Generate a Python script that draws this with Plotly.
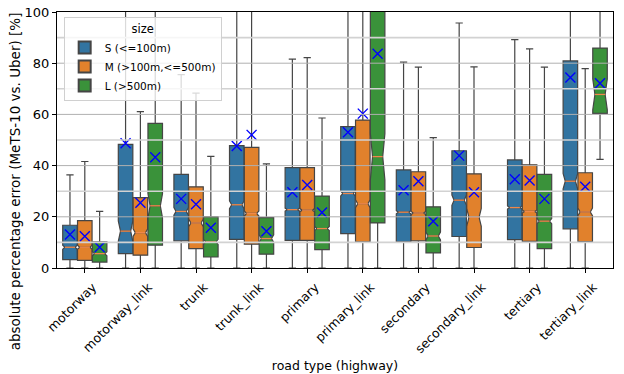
import plotly.graph_objects as go

# Road types on the x axis
categories = ["motorway", "motorway_link", "trunk", "trunk_link", "primary",
              "primary_link", "secondary", "secondary_link", "tertiary", "tertiary_link"]

# Box statistics per size class (None = no data for that road type)
s_q1 = [3.3, 5.6, 10.6, 11.2, 10.8, 13.4, 10.2, 12.3, 11.1, 15.3]
s_med = [8.1, 14.4, 22.1, 24.7, 22.8, 29.1, 21.8, 26.5, 23.6, 33.9]
s_q3 = [16.7, 48.3, 36.6, 47.8, 39.2, 55.2, 38.3, 45.8, 42.2, 80.9]
s_lo = [0, 0, 0, 0, 0, 0, 0, 0, 0, 0]
s_hi = [36.4, 118, 75.5, 115, 81.6, 125, 80.4, 95.7, 89.2, 150]
s_notch = [0.8, 4.0, 1.5, 1.5, 0.6, 1.0, 0.6, 2.0, 0.6, 3.0]
s_mean = [13.1, 48.7, 27.0, 47.7, 29.6, 53.0, 30.4, 43.9, 34.7, 74.4]

m_q1 = [3.0, 5.0, 7.6, 9.3, 10.8, 10.2, 10.6, 8.0, 10.4, 10.3]
m_med = [8.1, 13.8, 17.6, 21.3, 22.6, 25.1, 21.5, 19.8, 22.1, 21.9]
m_q3 = [18.5, 27.5, 31.7, 47.1, 39.2, 57.8, 37.6, 36.8, 40.3, 37.2]
m_lo = [0, 0, 0, 0, 0, 0, 0, 0, 0, 0]
m_hi = [41.6, 61.1, 68.3, 120, 82.2, 130, 78.5, 78.6, 85.6, 77.9]
m_notch = [0.8, 1.5, 1.5, 1.0, 0.6, 1.5, 0.6, 3.5, 0.6, 1.5]
m_mean = [12.4, 25.5, 24.9, 52.0, 32.4, 60.3, 33.9, 29.6, 34.2, 31.7]

l_q1 = [2.3, 8.9, 4.3, 5.4, 7.2, 17.6, 5.9, None, 7.6, 60.4]
l_med = [5.6, 24.3, 10.2, 11.5, 15.4, 43.5, 12.5, None, 18.3, 67.8]
l_q3 = [10.2, 56.5, 20.0, 19.7, 28.1, 140.0, 23.9, None, 36.6, 85.9]
l_lo = [0, 0, 0, 0, 0, 0, 0, None, 0, 42.4]
l_hi = [22.1, 115, 43.6, 40.7, 58.6, 250, 50.9, None, 78.5, 120]
l_notch = [0.8, 4.7, 1.0, 1.5, 0.8, 9.0, 1.5, None, 1.0, 6.0]
l_mean = [8.1, 43.3, 15.7, 14.4, 21.7, 83.7, 18.3, None, 27.0, 72.2]

sizes = ["S (<=100m)", "M (>100m,<=500m)", "L (>500m)"]
colors = ["#3274a1", "#e1812c", "#3a923a"]

groups = [
    (s_q1, s_med, s_q3, s_lo, s_hi, s_notch, s_mean),
    (m_q1, m_med, m_q3, m_lo, m_hi, m_notch, m_mean),
    (l_q1, l_med, l_q3, l_lo, l_hi, l_notch, l_mean),
]

dodge = 0.8 / 3
box_w = dodge * 0.98
notch_w = 0.15

fig = go.Figure()
mean_x, mean_y = [], []
med_x, med_y = [], []
for k, (q1, med, q3, lo, hi, nspan, mean) in enumerate(groups):
    idx = [i for i in range(len(categories)) if q1[i] is not None]
    xs = [i + (k - 1) * dodge for i in idx]
    fig.add_trace(go.Box(
        name=sizes[k], x=xs,
        q1=[q1[i] for i in idx], median=[med[i] for i in idx],
        q3=[q3[i] for i in idx], lowerfence=[lo[i] for i in idx],
        upperfence=[hi[i] for i in idx], notchspan=[nspan[i] for i in idx],
        notched=True, notchwidth=notch_w, width=box_w, whiskerwidth=0.5,
        fillcolor=colors[k], line=dict(color="#454545", width=1.2),
        boxpoints=False, hoverinfo="skip",
    ))
    for j, i in enumerate(idx):
        mean_x.append(xs[j]); mean_y.append(mean[i])
        half = box_w / 2 * (1 - 2 * notch_w)
        med_x += [xs[j] - half, xs[j] + half, None]
        med_y += [med[i], med[i], None]

# Median lines
fig.add_trace(go.Scatter(x=med_x, y=med_y, mode="lines",
                         line=dict(color="#f0884a", width=1.3),
                         showlegend=False, hoverinfo="skip"))
# Mean markers
fig.add_trace(go.Scatter(x=mean_x, y=mean_y, mode="markers",
                         marker=dict(symbol="x-thin", size=10,
                                     line=dict(color="#0000ff", width=1.4)),
                         showlegend=False, hoverinfo="skip"))

# Horizontal grid drawn over the boxes
shapes = []
for v in range(10, 100, 10):
    major = v % 20 == 0
    shapes.append(dict(type="line", xref="paper", x0=0, x1=1, yref="y", y0=v, y1=v,
                       layer="above",
                       line=dict(color="#b0b0b0" if major else "#d2d2d2",
                                 width=1 if major else 1.6)))
fig.update_layout(shapes=shapes)

# Y axis label
fig.add_annotation(text="absolute percentage error (MeTS-10 vs. Uber) [%]",
                   xref="paper", yref="paper", x=-0.075, y=0.34,
                   xanchor="center", yanchor="middle", textangle=-90,
                   showarrow=False, font=dict(size=13.5))

font = "DejaVu Sans"
fig.update_layout(
    width=624, height=374,
    margin=dict(l=57, r=11, t=12, b=106, autoexpand=False),
    plot_bgcolor="white", paper_bgcolor="white",
    font=dict(family=font, size=12.5, color="black"),
    showlegend=True,
    legend=dict(
        title=dict(text="size", side="top center", font=dict(size=11.5)),
        x=0.012, y=0.98, xanchor="left", yanchor="top",
        bgcolor="rgba(255,255,255,0.8)", bordercolor="#d0d0d0", borderwidth=1,
        font=dict(size=10.5), itemsizing="constant", tracegroupgap=0,
    ),
    xaxis=dict(
        range=[-0.5, len(categories) - 0.5], automargin=False,
        tickmode="array", tickvals=list(range(len(categories))), ticktext=categories,
        tickangle=-45, ticks="outside", ticklen=4, tickcolor="black",
        ticklabelshift=8, ticklabelstandoff=2,
        showgrid=False, zeroline=False,
        showline=True, linecolor="black", linewidth=1, mirror=True,
        title=dict(text="road type (highway)", font=dict(size=12.5), standoff=6),
        tickfont=dict(size=12.5),
    ),
    yaxis=dict(
        range=[0, 100], tickvals=[0, 20, 40, 60, 80, 100], automargin=False,
        ticks="outside", ticklen=4, tickcolor="black",
        showgrid=False, zeroline=False,
        showline=True, linecolor="black", linewidth=1, mirror=True,
        tickfont=dict(size=13),
    ),
)

fig.write_html("out.html")
